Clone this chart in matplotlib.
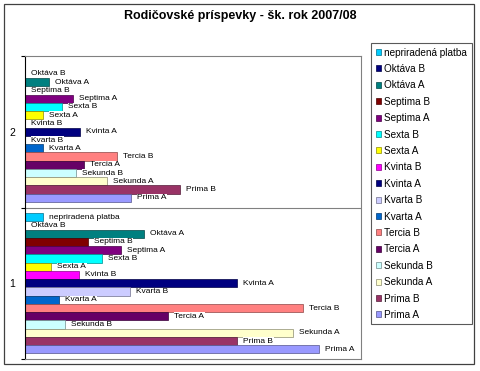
import numpy as np
import matplotlib
matplotlib.use("Agg")
import matplotlib.pyplot as plt
from matplotlib.patches import Rectangle
import matplotlib.colors as mcolors

plt.rcParams['font.family'] = ['Liberation Sans', 'DejaVu Sans']

title = "Rodičovské príspevky - šk. rok 2007/08"
categories = ["1", "2"]
series = ["nepriradená platba", "Oktáva B", "Oktáva A", "Septima B", "Septima A",
          "Sexta B", "Sexta A", "Kvinta B", "Kvinta A", "Kvarta B", "Kvarta A",
          "Tercia B", "Tercia A", "Sekunda B", "Sekunda A", "Prima B", "Prima A"]
# values per series for category "1" and "2" (None = no value)
values_1 = [18, 0, 119, 63, 96, 77, 26, 54, 212, 105, 34, 278, 143, 40, 268, 212, 294]
values_2 = [None, 0, 24, 0, 48, 37, 18, 0, 55, 0, 18, 92, 59, 51, 82, 155, 106]
colors = ["#00CCFF", "#000080", "#008080", "#800000", "#800080", "#00FFFF", "#FFFF00",
          "#FF00FF", "#000080", "#CCCCFF", "#0066CC", "#FF8080", "#660066", "#CCFFFF",
          "#FFFFCC", "#993366", "#9999FF"]

W, H = 480, 371
fig = plt.figure(figsize=(W / 100, H / 100), dpi=100)
fig.patch.set_facecolor("white")

# chart area border
fig.patches.append(Rectangle((4 / W, 1 - 364 / H), 470 / W, 360 / H, transform=fig.transFigure,
                             fill=False, edgecolor="#404040", linewidth=0.9))

ax = fig.add_axes([25 / W, 1 - 359 / H, 336 / W, 303 / H])
n = len(series)
h = 0.0545
cat_pos = np.arange(len(categories))

for i, name in enumerate(series):
    vals = [values_1[i], values_2[i]]
    ys, xs = [], []
    for c, v in zip(cat_pos, vals):
        if v is None:
            continue
        ys.append(c + (8 - i) * h)
        xs.append(v)
    rgb = np.array(mcolors.to_rgb(colors[i]))
    edge = tuple(rgb * 0.55)
    ax.barh(ys, xs, height=h, color=colors[i], edgecolor=edge, linewidth=0.5,
            label=name, zorder=2)
    for y, v in zip(ys, xs):
        ax.annotate(name, xy=(v, y), xytext=(4.5, 0), textcoords="offset points",
                    ha="left", va="center", fontsize=6, zorder=4,
                    bbox=dict(boxstyle="square,pad=0.05", facecolor="white", edgecolor="none"))

ax.set_xlim(0, 336)
ax.set_ylim(-0.5, 1.5)
ax.axhline(0.5, color="#808080", linewidth=0.8, zorder=1)
ax.set_xticks([])
ax.set_yticks(cat_pos)
ax.set_yticklabels(categories, fontsize=7.5)
ax.tick_params(axis="y", which="major", length=0, pad=7)
ax.set_yticks([-0.5, 0.5, 1.5], minor=True)
ax.tick_params(axis="y", which="minor", length=3, width=0.8, color="black")
for s in ["top", "right", "bottom"]:
    ax.spines[s].set_color("#808080")
    ax.spines[s].set_linewidth(0.8)
ax.spines["left"].set_color("black")
ax.spines["left"].set_linewidth(0.8)

fig.text(240 / W, 1 - 16 / H, title, ha="center", va="center", fontsize=9, fontweight="bold")

leg = fig.legend(loc="upper left", bbox_to_anchor=(371 / W, 1 - 43 / H), fontsize=7.2,
                 frameon=True, fancybox=False, shadow=False, borderaxespad=0,
                 handlelength=0.55, handleheight=0.55, handletextpad=0.35,
                 labelspacing=0.64, borderpad=0.45)
leg.get_frame().set_edgecolor("#303030")
leg.get_frame().set_linewidth(0.8)

fig.savefig("out.png", dpi=100)
